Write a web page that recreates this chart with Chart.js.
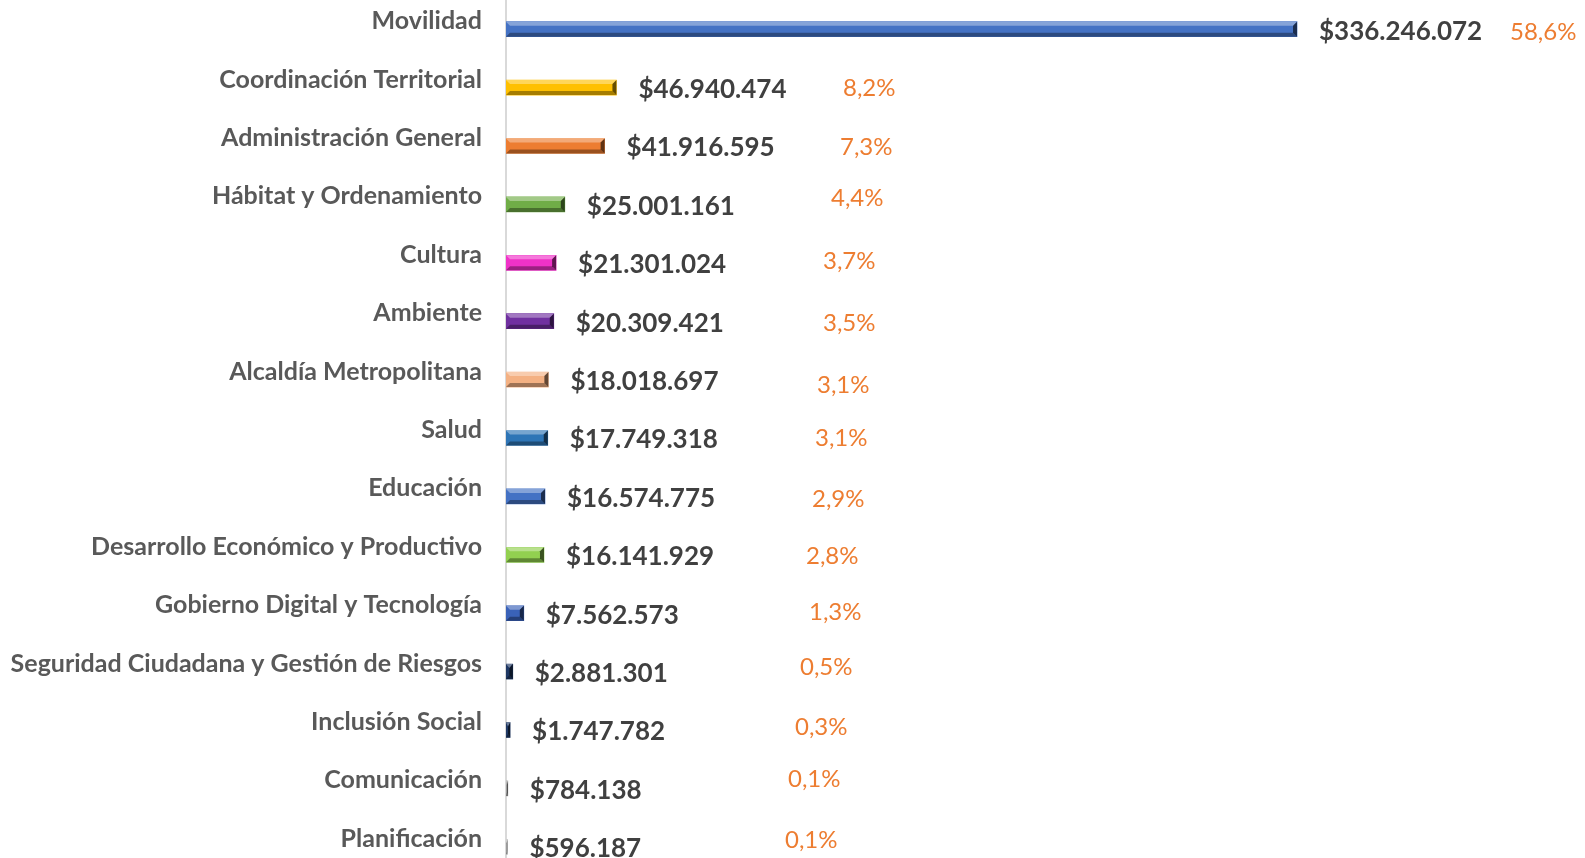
<!DOCTYPE html>
<html lang="es">
<head>
<meta charset="utf-8">
<title>Presupuesto por sector</title>
<script src="https://cdn.jsdelivr.net/npm/chart.js@4/dist/chart.umd.min.js"></script>
<style>
    html, body { margin: 0; padding: 0; background: #ffffff; overflow: hidden; }
    #wrap { position: absolute; left: 0; top: 0; width: 1585px; height: 876px; }
</style>
</head>
<body>
<div id="wrap"><canvas id="budget-chart" width="1585" height="876"></canvas></div>
<script>
// 数据
const sectores = [
    'Movilidad',
    'Coordinación Territorial',
    'Administración General',
    'Hábitat y Ordenamiento',
    'Cultura',
    'Ambiente',
    'Alcaldía Metropolitana',
    'Salud',
    'Educación',
    'Desarrollo Económico y Productivo',
    'Gobierno Digital y Tecnología',
    'Seguridad Ciudadana y Gestión de Riesgos',
    'Inclusión Social',
    'Comunicación',
    'Planificación'
];
const montos = [336246072, 46940474, 41916595, 25001161, 21301024, 20309421, 18018697, 17749318,
    16574775, 16141929, 7562573, 2881301, 1747782, 784138, 596187];
const porcentajes = ['58,6%', '8,2%', '7,3%', '4,4%', '3,7%', '3,5%', '3,1%', '3,1%',
    '2,9%', '2,8%', '1,3%', '0,5%', '0,3%', '0,1%', '0,1%'];

// 颜色
const colores = ['#4472C4', '#FFC000', '#ED7D31', '#70AD47', '#F032C8', '#7030A0', '#F4B183', '#2E75B6',
    '#4472C4', '#92D050', '#3A62B8', '#1F3864', '#1F3864', '#A6A6A6', '#BFBFBF'];

// 百分比标签位置 (像素, 参照原图)
const pctX = [1510, 843, 840, 831, 823, 823, 817, 815, 812, 806, 809, 800, 795, 788, 785];
const pctDy = [3, 1, 1, -6, -2, 2, 6, 0, 3, 1, -1, -4, -3, -9, -7];

function formatMonto(v) {
    return '$' + v.toString().replace(/\B(?=(\d{3})+(?!\d))/g, '.');
}

// 斜面效果
const bevelPlugin = {
    id: 'bevel',
    afterDatasetsDraw(chart) {
        const ctx = chart.ctx;
        const meta = chart.getDatasetMeta(0);
        ctx.save();
        meta.data.forEach(bar => {
            const left = bar.base;
            const right = bar.x;
            const top = bar.y - bar.height / 2;
            const bottom = bar.y + bar.height / 2;
            const w = right - left;
            if (w <= 0) return;
            const e = Math.min(4, w / 2);
            // 顶部高光
            ctx.fillStyle = 'rgba(255,255,255,0.35)';
            ctx.beginPath();
            ctx.moveTo(left, top);
            ctx.lineTo(right, top);
            ctx.lineTo(right - e, top + 4);
            ctx.lineTo(left + e, top + 4);
            ctx.closePath();
            ctx.fill();
            // 底部阴影
            ctx.fillStyle = 'rgba(0,0,0,0.35)';
            ctx.beginPath();
            ctx.moveTo(left, bottom);
            ctx.lineTo(right, bottom);
            ctx.lineTo(right - e, bottom - 4);
            ctx.lineTo(left + e, bottom - 4);
            ctx.closePath();
            ctx.fill();
            // 右端
            ctx.fillStyle = 'rgba(0,0,0,0.6)';
            ctx.beginPath();
            ctx.moveTo(right, top);
            ctx.lineTo(right, bottom);
            ctx.lineTo(right - e, bottom - 4);
            ctx.lineTo(right - e, top + 4);
            ctx.closePath();
            ctx.fill();
        });
        ctx.restore();
    }
};

// 数值与百分比标签
const labelPlugin = {
    id: 'barLabels',
    afterDatasetsDraw(chart) {
        const ctx = chart.ctx;
        const meta = chart.getDatasetMeta(0);
        ctx.save();
        ctx.textBaseline = 'middle';
        ctx.textAlign = 'left';
        meta.data.forEach((bar, i) => {
            ctx.font = 'bold 26px Lato';
            ctx.fillStyle = '#404040';
            ctx.fillText(formatMonto(montos[i]), bar.x + 22, bar.y + 2);

            ctx.font = '24px Lato';
            ctx.fillStyle = '#ED7D31';
            ctx.fillText(porcentajes[i], pctX[i], bar.y + pctDy[i]);
        });
        ctx.restore();
    }
};

const ctx = document.getElementById('budget-chart').getContext('2d');
new Chart(ctx, {
    type: 'bar',
    data: {
        labels: sectores,
        datasets: [{
            label: 'Presupuesto',
            data: montos,
            backgroundColor: colores,
            borderWidth: 0,
            barThickness: 15
        }]
    },
    options: {
        indexAxis: 'y',
        responsive: false,
        animation: false,
        devicePixelRatio: 1,
        layout: {
            padding: { top: 0, bottom: 0, left: 0, right: 138 }
        },
        plugins: {
            legend: { display: false },
            tooltip: { enabled: false }
        },
        scales: {
            x: {
                display: false,
                min: 0,
                max: 400000000
            },
            y: {
                grid: { display: false },
                border: { display: true, color: '#D9D9D9', width: 2 },
                ticks: {
                    color: '#595959',
                    font: { family: 'Lato', size: 25, weight: 'bold' },
                    padding: 16,
                    labelOffset: -8,
                    autoSkip: false
                },
                afterFit(scale) {
                    scale.width = 506;
                    scale.paddingTop = 0;
                    scale.paddingBottom = 0;
                }
            }
        }
    },
    plugins: [bevelPlugin, labelPlugin]
});
</script>
</body>
</html>
